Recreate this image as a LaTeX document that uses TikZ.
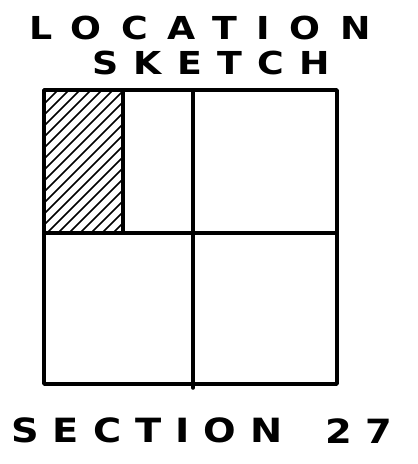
\documentclass[tikz,border=0pt]{standalone}
\usepackage{fontspec}
\usetikzlibrary{positioning}
\newfontfamily\handfont[FakeStretch=1.15]{DejaVu Sans}
\tikzset{
  frame/.style={line width=2pt, line cap=round, line join=round},
  hatch/.style={line width=1pt},
  lettering/.style={inner sep=0pt}
}
\begin{document}
\begin{tikzpicture}[x=0.02cm, y=-0.02cm]
  % page, in pixels of the scan (y runs down)
  \useasboundingbox (0,0) rectangle (417,464);
  % heading
  \node[lettering, font=\handfont\bfseries\addfontfeature{LetterSpace=62}\fontsize{18}{18}\selectfont] (title) at (200,28) {LOCATION};
  \node[lettering, font=\handfont\bfseries\addfontfeature{LetterSpace=48}\fontsize{18}{18}\selectfont, below=0.2cm of title, xshift=0.22cm] (sketch) {SKETCH};
  % shaded quarter-quarter
  \begin{scope}
    \clip (44,90) rectangle (123,233);
    \foreach \k in {0,...,22}
      \draw[hatch] (44,{233-\k*11+80}) -- (124,{233-\k*11});
  \end{scope}
  % section outline
  \draw[frame] (44,90) rectangle (337,384);
  % quarter lines
  \draw[frame] (193,90) -- (193,388);
  \draw[frame] (44,233) -- (337,233);
  % quarter-quarter line
  \draw[frame] (123,90) -- (123,233);
  % section number
  \node[lettering, font=\handfont\bfseries\addfontfeature{LetterSpace=42}\fontsize{19}{19}\selectfont] (sec) at (147,430) {SECTION};
  \node[lettering, font=\handfont\bfseries\addfontfeature{LetterSpace=40}\fontsize{19}{19}\selectfont] (num) at (359,431) {27};
\end{tikzpicture}
\end{document}
